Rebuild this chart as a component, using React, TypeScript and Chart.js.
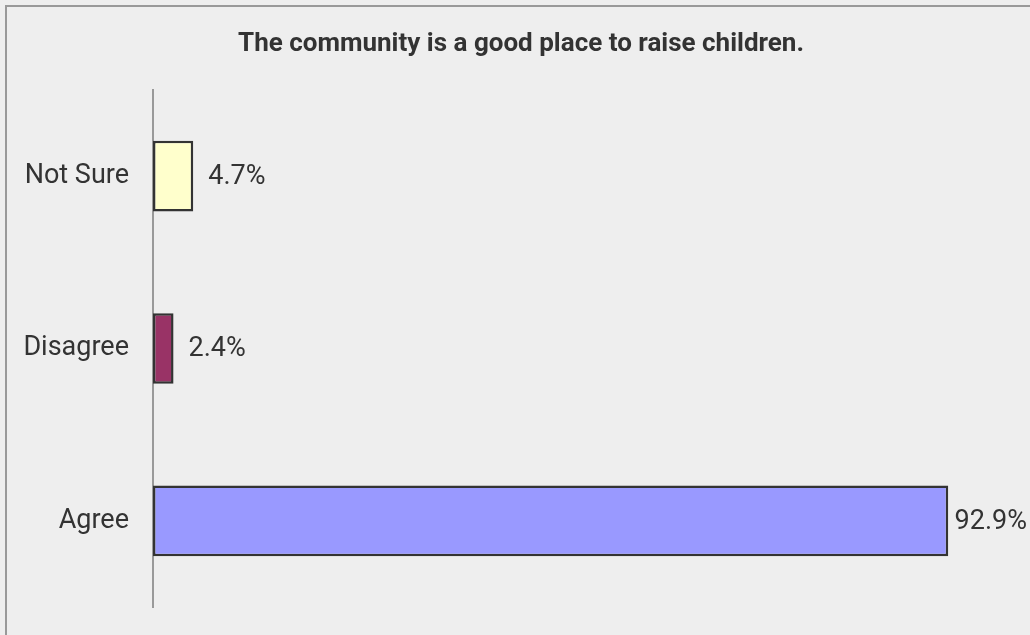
import React, { useEffect, useRef } from "react";
import { Chart, registerables } from "chart.js";

Chart.register(...registerables);

const TITLE = "The community is a good place to raise children.";
const categories = ["Not Sure", "Disagree", "Agree"];
const values = [4.7, 2.4, 92.9];
const valueLabels = ["4.7%", "2.4%", "92.9%"];
const barColors = ["#ffffcc", "#993366", "#9999ff"];

const FONT = "Roboto, 'Liberation Sans', Arial, sans-serif";

const valueLabelPlugin = {
  id: "valueLabels",
  afterDatasetsDraw(chart: any) {
    const ctx = chart.ctx;
    const meta = chart.getDatasetMeta(0);
    ctx.save();
    ctx.font = `27px ${FONT}`;
    ctx.fillStyle = "#333333";
    ctx.textBaseline = "middle";
    ctx.textAlign = "left";
    meta.data.forEach((bar: any, i: number) => {
      const text = valueLabels[i];
      const w = ctx.measureText(text).width;
      let x = bar.x + 15;
      const maxX = chart.width - 3 - w;
      if (x > maxX) x = maxX;
      ctx.fillText(text, x, bar.y + 1);
    });
    ctx.restore();
  },
};

const titlePlugin = {
  id: "customTitle",
  afterDraw(chart: any) {
    const ctx = chart.ctx;
    ctx.save();
    ctx.font = `bold 26px ${FONT}`;
    ctx.fillStyle = "#333333";
    ctx.textAlign = "center";
    ctx.textBaseline = "alphabetic";
    ctx.fillText(TITLE, 521, 51);
    ctx.restore();
  },
};

export default function App() {
  const canvasRef = useRef<HTMLCanvasElement | null>(null);

  useEffect(() => {
    document.body.style.margin = "0";
    document.body.style.background = "#eeeeee";
    if (!canvasRef.current) return;
    const chart = new Chart(canvasRef.current, {
      type: "bar",
      data: {
        labels: categories,
        datasets: [
          {
            data: values,
            backgroundColor: barColors,
            borderColor: "#333333",
            borderWidth: 2.5,
            borderSkipped: false,
            barPercentage: 0.41,
            categoryPercentage: 1,
          },
        ],
      },
      options: {
        indexAxis: "y",
        animation: false,
        responsive: false,
        maintainAspectRatio: false,
        layout: { padding: { top: 90, bottom: 28, right: 21, left: 0 } },
        plugins: {
          legend: { display: false },
          title: { display: false },
          tooltip: { enabled: false },
        },
        scales: {
          x: {
            display: false,
            min: 0,
            max: 100,
          },
          y: {
            grid: { display: false, drawTicks: false },
            border: { display: true, color: "#999999", width: 2 },
            ticks: {
              padding: 24,
              color: "#333333",
              font: { family: FONT, size: 27 },
            },
            afterFit(axis: any) {
              axis.width = 153;
              axis.paddingTop = 0;
              axis.paddingBottom = 0;
            },
          },
        },
      },
      plugins: [valueLabelPlugin, titlePlugin],
    });
    return () => chart.destroy();
  }, []);

  return (
    <div style={{ position: "fixed", left: 0, top: 0, width: 1030, height: 635, background: "#eeeeee" }}>
      <div
        style={{
          position: "absolute",
          left: 5,
          top: 5,
          width: 1030,
          height: 635,
          borderLeft: "2px solid #999999",
          borderTop: "2px solid #999999",
          boxSizing: "border-box",
        }}
      />
      <canvas
        ref={canvasRef}
        width={1030}
        height={635}
        style={{ position: "absolute", left: 0, top: 0, width: 1030, height: 635 }}
      />
    </div>
  );
}
